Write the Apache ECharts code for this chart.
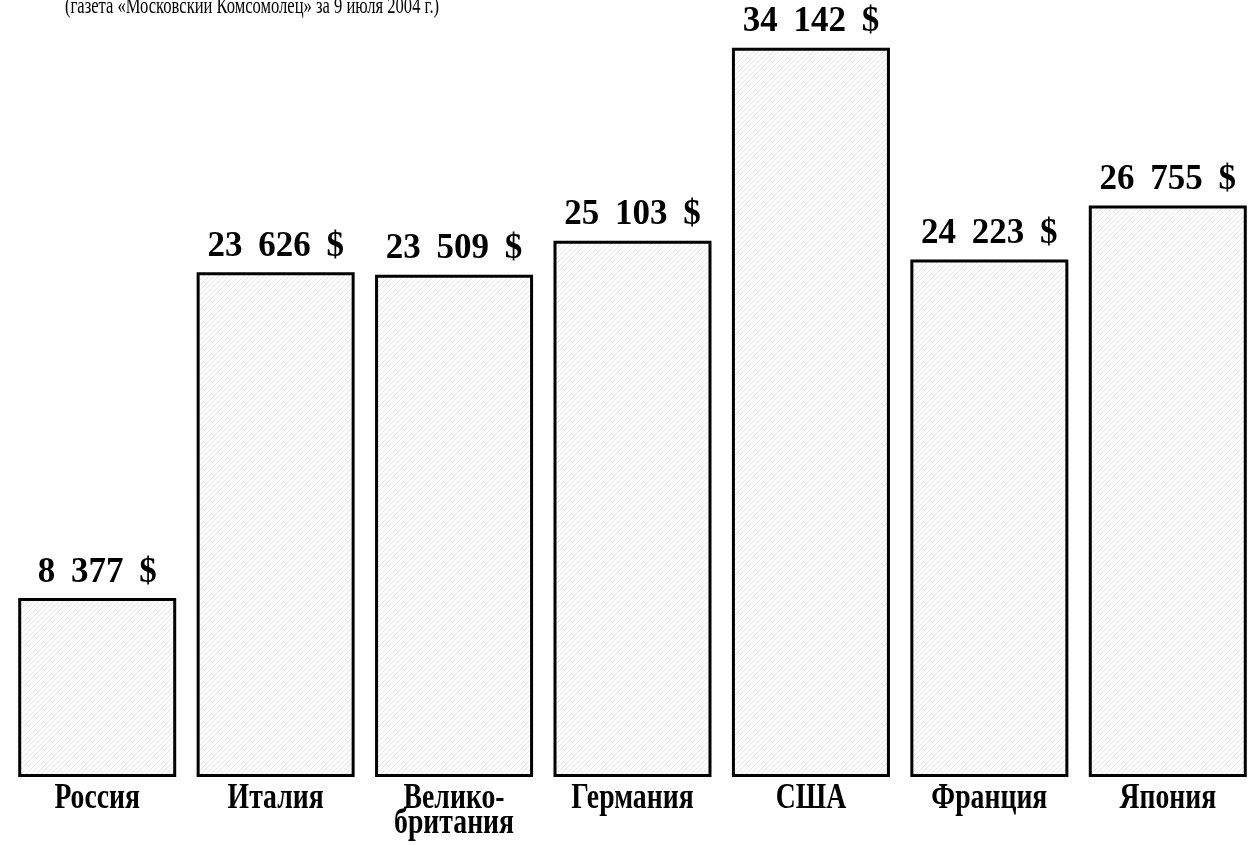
<!DOCTYPE html>
<html><head><meta charset="utf-8">
<script src="https://cdn.jsdelivr.net/npm/echarts@6/dist/echarts.min.js"></script>
<style>html,body{margin:0;padding:0;background:#fff}#c{width:1257px;height:845px}</style>
</head><body><div id="c"></div>
<script>
const categories = ['Россия','Италия','Велико-\nбритания','Германия','США','Франция','Япония'];
const values = [8377, 23626, 23509, 25103, 34142, 24223, 26755];
const valueLabels = ['8 \u2009377 \u2009$','23 \u2009626 \u2009$','23 \u2009509 \u2009$','25 \u2009103 \u2009$','34 \u2009142 \u2009$','24 \u2009223 \u2009$','26 \u2009755 \u2009$'];
const subtitle = '(газета «Московский Комсомолец» за 9 июля 2004 г.)';

const cv = document.createElement('canvas');
cv.width = 5; cv.height = 5;
const cx = cv.getContext('2d');
cx.fillStyle = '#fff'; cx.fillRect(0,0,5,5);
cx.strokeStyle = '#dcdcdc'; cx.lineWidth = 0.7;
cx.beginPath(); cx.moveTo(-1,6); cx.lineTo(6,-1); cx.stroke();
cx.beginPath(); cx.moveTo(-1,1); cx.lineTo(1,-1); cx.stroke();
cx.beginPath(); cx.moveTo(4,6); cx.lineTo(6,4); cx.stroke();

const chart = echarts.init(document.getElementById('c'), null, {renderer:'canvas'});
chart.setOption({
  animation:false,
  graphic:[{type:'text',x:65,y:-5,scaleX:0.69,
    style:{text:subtitle,font:'24px "Liberation Serif"',fill:'#000',verticalAlign:'top',align:'left'}}],
  grid:{left:8,right:0,top:8,bottom:68},
  xAxis:{type:'category',data:categories,axisLine:{show:false},axisTick:{show:false},axisLabel:{show:false}},
  yAxis:{type:'value',min:0,max:36000,show:false,splitLine:{show:false}},
  series:[{type:'bar',data:values,barWidth:158,
    itemStyle:{color:{image:cv,repeat:'repeat'},borderColor:'#000',borderWidth:3},
    label:{show:true,position:'top',distance:8,formatter:p=>valueLabels[p.dataIndex],
      fontFamily:'Liberation Serif',fontWeight:'bold',fontSize:35,color:'#000'}},
   {type:'custom',silent:true,clip:false,data:categories.map((c,i)=>[i,0]),
    renderItem:(params,api)=>{
      const p = api.coord([api.value(0),0]);
      return {type:'text',x:p[0],y:p[1]+9,scaleX:0.77,
        style:{text:categories[params.dataIndex],font:'bold 36px "Liberation Serif"',fill:'#000',
          align:'center',verticalAlign:'top',lineHeight:25}};
    }}]
});
</script></body></html>
